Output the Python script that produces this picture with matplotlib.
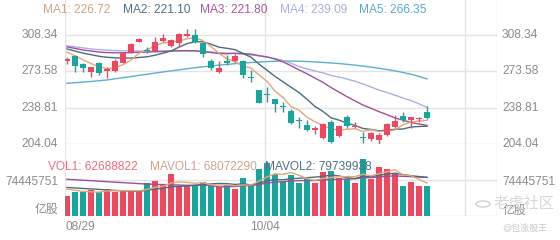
import matplotlib
matplotlib.use("Agg")
import matplotlib.pyplot as plt
import numpy as np
from matplotlib.patches import Circle

plt.rcParams['font.family'] = ['Liberation Sans', 'Noto Sans CJK SC', 'DejaVu Sans']

# ---------------- data ----------------
opens = [283, 288, 281, 272.6, 281.2, 274.2, 274.2, 281.9, 291.8, 302,
         294, 293.4, 302.9, 297.8, 300.4, 307.7, 308.3, 301, 283.8, 272.6,
         283, 283.8, 283.8, 268, 255.7, 251.8, 246.8, 240.3, 235.9, 227,
         222.5, 217.4, 209.4, 225.4, 211.7, 230.2, 220.5, 210.5, 208.5, 207.9,
         212.6, 220, 230.8, 227, 228, 235]
highs = [287, 289, 282, 278, 282.2, 278, 285, 292.4, 301, 305.2,
         297, 306.8, 309.3, 304.2, 310.6, 313.8, 313.8, 302, 285, 283.8,
         289, 289.8, 284.4, 274.9, 256, 258.9, 247, 244.5, 237.2, 230.2,
         227, 221.3, 223.8, 227, 222.2, 231.8, 225.4, 215.8, 215.8, 214.2,
         223.8, 231.8, 235, 230.2, 230.2, 240.4]
lows = [281, 273, 273, 267.8, 270, 266.9, 273.3, 281.2, 290.8, 301.6,
        290.8, 292.4, 302, 296.5, 297.2, 306.7, 300.4, 287, 274.9, 271.7,
        279.6, 282.8, 266.9, 263.7, 243, 244.5, 235, 235, 223.2, 219,
        216.8, 213.6, 208.5, 205.3, 211, 219, 219, 204.7, 207.2, 200.8,
        211.7, 219, 225.4, 219, 225.4, 228]
closes = [285, 279, 277, 277.4, 271.7, 275.8, 283.8, 290.8, 299.7, 304.2,
          293, 302, 305.2, 303.6, 309.3, 309.3, 302, 290.2, 276.4, 276.4,
          282, 288.2, 270, 267, 243.6, 250.8, 242.3, 239, 223.8, 226,
          217.4, 219, 223.2, 206.3, 221.3, 221.3, 221.5, 210, 214.9, 213,
          223.2, 226.4, 227, 229.5, 229.2, 229.2]

ma1 = [292, 288.5, 284.5, 281, 278, 276.2, 277.1, 279.9, 284.4, 290.9,
       294.3, 298, 300.8, 301.6, 302.6, 304.7, 305.9, 302.9, 297.4, 290.9,
       285.4, 282.6, 278.6, 276.7, 270.2, 263.9, 254.7, 248.5, 239.9, 236.4,
       229.7, 225.2, 221.9, 218.4, 217.4, 218.2, 218.6, 216, 217.7, 216,
       216.4, 217.5, 222.4, 225.2, 226, 226.72]
ma2 = [295, 293, 291, 289.5, 288, 287, 286.5, 286.3, 286.3, 286.8,
       287.5, 289, 291, 293, 296.7, 300.1, 301.9, 301.9, 299.5, 296.7,
       295.6, 294.3, 290.7, 287.1, 280.5, 274.7, 268.7, 263.6, 258.3, 253.3,
       246.8, 239.9, 235.2, 229.1, 226.9, 224, 221.8, 218.9, 218, 216.7,
       217.3, 218.1, 218.4, 220.3, 220.8, 221.1]
ma3 = [297, 295.5, 294, 293, 292, 291.5, 291.3, 291.3, 291.5, 291.8,
       292, 292.3, 292.6, 293, 293.3, 293.4, 293.2, 292.6, 291.6, 290.6,
       290.4, 290.9, 290.6, 290, 288.6, 287.4, 285.3, 282.7, 278.9, 275,
       271.2, 267.1, 263, 258.1, 253.7, 249.3, 245.3, 241.3, 238.2, 235,
       232.1, 229, 226.8, 224.6, 223.2, 221.8]
ma4 = [298, 297, 296, 295, 294.3, 293.8, 293.4, 293.2, 293.1, 293,
       293, 293, 293, 293, 293, 293, 292.8, 292.5, 292, 291.5,
       291, 290.6, 290, 289.3, 288.3, 287.2, 285.8, 284, 281.3, 278.2,
       275.9, 273.9, 272.1, 269.7, 268.1, 266.2, 264.1, 261.5, 258.6, 255.6,
       253.3, 250.7, 248.1, 245.5, 242.5, 239.09]
ma5 = [262.1, 262.7, 263.3, 263.9, 264.6, 265.3, 266.4, 267.5, 268.6, 269.7,
       270.8, 271.9, 273, 274, 275, 276, 277, 277.9, 278.7, 279.5,
       280.2, 280.9, 281.5, 282, 282.5, 282.9, 283.2, 283.4, 283.4, 283.3,
       283, 282.6, 282.1, 281.6, 281, 280.3, 279.5, 278.6, 277.6, 276.5,
       275.3, 274, 272.5, 270.8, 268.7, 266.35]

# volumes in millions of shares
volume_m = [42, 50.3, 50.3, 53.8, 50.3, 55.1, 50.3, 52.4, 53.8, 49.6,
            68, 72.4, 64.1, 86.5, 62, 62, 64.1, 70.5, 64.1, 59.3,
            64.1, 55.1, 78, 64.1, 98, 109.5, 86.9, 71, 84.8, 68.9,
            75.9, 67.6, 91.6, 93.7, 78, 75.9, 67.6, 117.2, 75.9, 100.7,
            96.6, 88.3, 62, 69.7, 62, 62.69]
mavol1_m = [56, 53, 51, 50, 49.3, 52, 52, 52.4, 52.4, 52.2,
            54.8, 59.2, 61.6, 68.1, 70.6, 69.4, 67.7, 69, 64.5, 64,
            64.4, 62.6, 64.1, 64.1, 71.9, 80.9, 87.3, 85.9, 90, 84.2,
            77.5, 73.6, 77.8, 79.5, 81.4, 81.4, 81.4, 86.5, 82.9, 87.5,
            91.6, 95.7, 84.7, 83.5, 75.7, 68.07]
mavol2_m = [59, 58, 57, 56, 55, 54, 53, 52, 51.5, 50.8,
            53.4, 55.6, 57, 60.3, 61.4, 62.1, 63.5, 65.3, 66.3, 67.3,
            66.9, 65.2, 66.6, 64.3, 67.9, 72.7, 75, 75, 77.1, 78,
            79.2, 80.5, 81.8, 84.8, 82.8, 79.4, 77.5, 82.1, 81.2, 84.4,
            86.5, 88.6, 85.6, 83.2, 81.6, 79.74]
mavol3_m = [76, 75, 74, 73, 72, 71, 70, 69, 68, 67,
            66, 65.5, 65, 64.5, 64, 63.5, 63.5, 63.5, 63.5, 60,
            61, 61, 62.5, 63, 65, 68, 70, 71, 72.5, 73,
            73.5, 73.5, 74.5, 75.5, 76, 76.5, 77, 79, 79.5, 81,
            82, 83, 82, 81.5, 80.5, 80]

price_ticks = [204.04, 238.81, 273.58, 308.34]
price_tick_labels = ["204.04", "238.81", "273.58", "308.34"]
vol_tick = 74445751
vol_tick_label = "74445751"
vol_unit_label = "亿股"
date_labels = ["08/29", "10/04"]
ma_legend = ["MA1: 226.72", "MA2: 221.10", "MA3: 221.80", "MA4: 239.09", "MA5: 266.35"]
vol_legend = ["VOL1: 62688822", "MAVOL1: 68072290", "MAVOL2: 79739938"]

# ---------------- style ----------------
UP = '#f0475f'
DOWN = '#16a69c'
MA_COLORS = ['#e4a77c', '#4c6c7c', '#a0509a', '#aab0e6', '#5eaecd']
MA_TEXT = ['#cda58c', '#4f6f82', '#b0559c', '#a9b0de', '#5aa8cc']
GRID = '#e4e4e4'
TICK = '#8a8a8a'

W, H = 560, 240
fig = plt.figure(figsize=(W / 100, H / 100), dpi=100)

X0, X1 = 65, 497
STEP = 8.0
XMIN = -0.25
XMAX = XMIN + (X1 - X0) / STEP


def rect(px_left, py_top, px_right, py_bottom):
    return [px_left / W, 1 - py_bottom / H, (px_right - px_left) / W, (py_bottom - py_top) / H]


x = np.arange(len(closes))
o = np.array(opens); c = np.array(closes)
hi = np.array(highs); lo = np.array(lows)
up = c >= o
colors = np.where(up, UP, DOWN)

# background axis for vertical grid lines
ax_bg = fig.add_axes(rect(X0, 0, X1, 216))
ax_bg.set_xlim(XMIN, XMAX)
ax_bg.set_ylim(0, 1)
ax_bg.axis('off')
for gx in [XMIN, XMIN + 25, XMIN + 50, XMAX]:
    ax_bg.axvline(gx, color=GRID, lw=1, zorder=0)

# price axis
PY_TOP, PY_BOT = 22, 144
ppx = (308.34 - 204.04) / (144 - 35)
ax = fig.add_axes(rect(X0, PY_TOP, X1, PY_BOT))
ax.set_xlim(XMIN, XMAX)
ax.set_ylim(204.04, 308.34 + (35 - PY_TOP) * ppx)
ax.axis('off')
ax.patch.set_alpha(0)
for t in price_ticks:
    ax.axhline(t, color=GRID, lw=1, zorder=0)

for series, col in zip([ma5, ma4, ma3, ma2, ma1], MA_COLORS[::-1]):
    ax.plot(x, series, color=col, lw=1.0, zorder=3)

ax.vlines(x, lo, hi, colors=colors, lw=1, zorder=4)
body_h = np.maximum(np.abs(c - o), 0.7)
ax.bar(x, body_h, bottom=np.minimum(o, c), width=0.7, color=colors, zorder=5, linewidth=0)

# volume axis
VY_TOP, VY_BOT = 144, 216
ax_v = fig.add_axes(rect(X0, VY_TOP, X1, VY_BOT))
ax_v.set_xlim(XMIN, XMAX)
ax_v.set_ylim(0, 2 * vol_tick)
ax_v.axis('off')
ax_v.patch.set_alpha(0)
ax_v.axhline(vol_tick, color=GRID, lw=1, zorder=0)
ax_v.axhline(0, color='#dcdcdc', lw=1, zorder=0)
vol = np.array(volume_m) * 1e6
ax_v.bar(x, vol, width=0.75, color=colors, zorder=3, linewidth=0)
ax_v.plot(x, np.array(mavol3_m) * 1e6, color='#9a5094', lw=1.0, zorder=4)
ax_v.plot(x, np.array(mavol2_m) * 1e6, color='#4c6c7c', lw=1.0, zorder=4)
ax_v.plot(x, np.array(mavol1_m) * 1e6, color='#e4a77c', lw=1.0, zorder=4)

# ---------------- texts ----------------
FS = 8.6
for t, lab in zip(price_ticks, price_tick_labels):
    py = 35 + (308.34 - t) / ppx
    fig.text(58 / W, 1 - py / H, lab, ha='right', va='center', fontsize=FS, color=TICK)
    fig.text(502 / W, 1 - py / H, lab, ha='left', va='center', fontsize=FS, color=TICK)

fig.text(58 / W, 1 - 182 / H, vol_tick_label, ha='right', va='center', fontsize=FS, color=TICK)
fig.text(502 / W, 1 - 182 / H, vol_tick_label, ha='left', va='center', fontsize=FS, color=TICK)
fig.text(58 / W, 1 - 210 / H, vol_unit_label, ha='right', va='center', fontsize=FS, color=TICK)
fig.text(503 / W, 1 - 211 / H, vol_unit_label, ha='left', va='center', fontsize=FS, color=TICK)

fig.text(65 / W, 1 - 227 / H, date_labels[0], ha='left', va='center', fontsize=FS, color=TICK)
fig.text(265 / W, 1 - 227 / H, date_labels[1], ha='center', va='center', fontsize=FS, color=TICK)

for lab, xp, col in zip(ma_legend, [43, 123, 200, 280, 359], MA_TEXT):
    fig.text(xp / W, 1 - 10 / H, lab, ha='left', va='center', fontsize=FS, color=col)

for lab, xp, col in zip(vol_legend, [48, 150, 265], ['#f0707c', '#cda58c', '#4f6f82']):
    fig.text(xp / W, 1 - 167 / H, lab, ha='left', va='center', fontsize=FS, color=col)

# watermark
fig.patches.append(Circle((483 / W, 1 - 204 / H), 7 / W, transform=fig.transFigure,
                          facecolor='none', edgecolor='#d6d6d6', lw=1.2))
fig.text(494 / W, 1 - 204 / H, "老虎社区", ha='left', va='center', fontsize=11, color='#d6d6d6')
fig.text(502 / W, 1 - 228 / H, "@包涨股王", ha='left', va='center', fontsize=6.5, color='#c8c8c8')

fig.savefig('out.png', dpi=100)
